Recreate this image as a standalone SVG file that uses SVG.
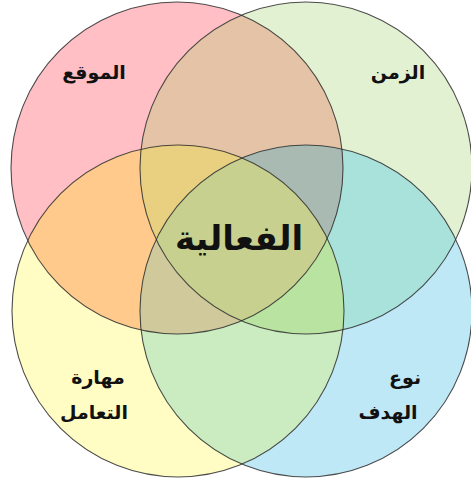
<svg xmlns="http://www.w3.org/2000/svg" width="471" height="481" viewBox="0 0 471 481">
<style>
.lbl{font-family:"DejaVu Sans",sans-serif;font-weight:bold;font-size:19px;fill:#111;text-anchor:middle}
.big{font-family:"DejaVu Sans",sans-serif;font-weight:bold;font-size:34px;fill:#111;text-anchor:middle}
.edge{fill:none;stroke:#2e2e2e;stroke-width:1.1;stroke-opacity:0.85}
</style>
<defs>
<circle id="cP" cx="177" cy="168" r="166"/>
<circle id="cG" cx="306" cy="168" r="166"/>
<circle id="cY" cx="178" cy="311" r="166"/>
<circle id="cB" cx="306" cy="311" r="166"/>
<clipPath id="kP"><use href="#cP"/></clipPath>
<clipPath id="kG"><use href="#cG"/></clipPath>
<clipPath id="kY"><use href="#cY"/></clipPath>
<clipPath id="kB"><use href="#cB"/></clipPath>
</defs>
<rect width="471" height="481" fill="#ffffff"/>
<g id="fills">
<use href="#cP" fill="#FFBFC4"/>
<use href="#cG" fill="#E3F1D3"/>
<use href="#cY" fill="#FFFDC3"/>
<use href="#cB" fill="#BFE8F7"/>
<g clip-path="url(#kP)"><use href="#cG" fill="#E5C3A6"/><use href="#cY" fill="#FFCA8C"/></g>
<g clip-path="url(#kB)"><use href="#cG" fill="#A9E2DA"/><use href="#cY" fill="#CBECC0"/></g>
<g clip-path="url(#kP)"><g clip-path="url(#kG)"><use href="#cY" fill="#E8D080"/><use href="#cB" fill="#A8BAB2"/></g></g>
<g clip-path="url(#kY)"><g clip-path="url(#kB)"><use href="#cP" fill="#D0C99B"/><use href="#cG" fill="#B9E3A0"/></g></g>
<g clip-path="url(#kP)"><g clip-path="url(#kG)"><g clip-path="url(#kY)"><use href="#cB" fill="#C7D08E"/></g></g></g>
</g>
<g id="node-location"><use href="#cP" class="edge"/><text class="lbl" x="94" y="79">الموقع</text></g>
<g id="node-time"><use href="#cG" class="edge"/><text class="lbl" x="398" y="79">الزمن</text></g>
<g id="node-skill"><use href="#cY" class="edge"/><text class="lbl" x="98" y="384">مهارة</text><text class="lbl" x="94" y="419">التعامل</text></g>
<g id="node-target"><use href="#cB" class="edge"/><text class="lbl" x="405" y="384">نوع</text><text class="lbl" x="388" y="419">الهدف</text></g>
<g id="node-center"><text class="big" x="239" y="250">الفعالية</text></g>
<g id="connectors"></g>
</svg>
